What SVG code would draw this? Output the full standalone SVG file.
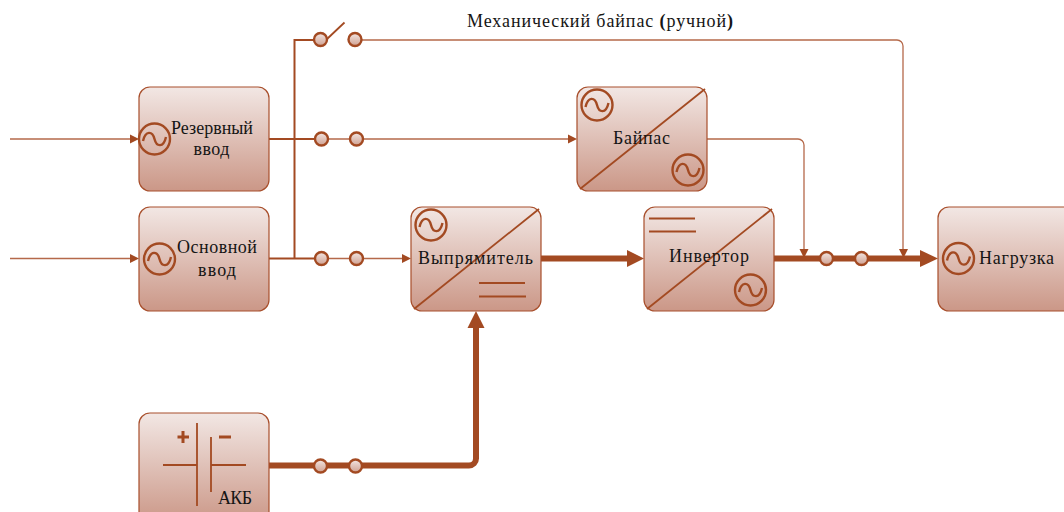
<svg xmlns="http://www.w3.org/2000/svg" width="1064" height="512" viewBox="0 0 1064 512">
<style>
.box{fill:url(#g);stroke:#a84f2c;stroke-width:1.2}
.t{font-family:"Liberation Serif",serif;font-size:18px;fill:#151515;text-anchor:middle}
.thin{fill:none;stroke:#b5694a;stroke-width:1.3}
.med{fill:none;stroke:#a34a22;stroke-width:2}
.thick{fill:none;stroke:#a34a22;stroke-width:6}
.sym{fill:none;stroke:#a34a22;stroke-width:1.8}
.pm{fill:none;stroke:#a34a22;stroke-width:3}
.ac{fill:none;stroke:#a34a22;stroke-width:2.400}
.dot{fill:url(#d);stroke:#a34a22;stroke-width:2.400}
.head{fill:#a34a22}
</style>
<defs>
<linearGradient id="g" x1="0" y1="0" x2="0" y2="1"><stop offset="0" stop-color="#f2e7e4"/><stop offset="1" stop-color="#cb9787"/></linearGradient>
<linearGradient id="d" x1="0" y1="0" x2="0" y2="1"><stop offset="0" stop-color="#f2e7e4"/><stop offset="1" stop-color="#d0a090"/></linearGradient>
<g id="ac"><circle r="15.500" class="ac"/><path d="M-11.500,2 C-9,-9 -2,-8 0,0 C2,8 9,9 11.500,-2" class="ac"/></g>
</defs>
<g id="connectors">
<path class="thin" d="M10,139H132"/><path class="head" d="M130,134.500L139,139L130,143.500Z"/>
<path class="thin" d="M10,258.500H132"/><path class="head" d="M130,254L139,258.500L130,263Z"/>
<path class="med" d="M269,139H321"/>
<path class="med" d="M269,258.500H321"/>
<path class="med" d="M294.500,258.500V40H320"/>
<path class="sym" d="M327,39L344.500,22.500"/>
<path class="thin" d="M321,139H570"/><path class="head" d="M568,134.500L577,139L568,143.500Z"/>
<path class="thin" d="M321,258.500H404"/><path class="head" d="M402,254L411,258.500L402,263Z"/>
<path class="thin" d="M355,40H897a6,6 0 0 1 6,6V250"/><path class="head" d="M899,249L903.500,258L908,249Z"/>
<path class="thin" d="M707,139H798a6,6 0 0 1 6,6V250"/><path class="head" d="M799.500,249L804,258L808.500,249Z"/>
<path class="thick" d="M541,258.500H628"/><path class="head" d="M627,250L644,258.500L627,267Z"/>
<path class="thick" d="M774,258.500H922"/><path class="head" d="M920,250L938,258.500L920,267Z"/>
<path class="thick" d="M269,465.500H469a7,7 0 0 0 7,-7V326"/><path class="head" d="M467.500,328L476,311L484.500,328Z"/>
<circle class="dot" cx="320.500" cy="39.500" r="6.500"/><circle class="dot" cx="355" cy="39.500" r="6.500"/>
<circle class="dot" cx="321.500" cy="139" r="6.500"/><circle class="dot" cx="356.500" cy="139" r="6.500"/>
<circle class="dot" cx="321.500" cy="258.500" r="6.500"/><circle class="dot" cx="356.500" cy="258.500" r="6.500"/>
<circle class="dot" cx="826.500" cy="258.500" r="6.500"/><circle class="dot" cx="861.500" cy="258.500" r="6.500"/>
<circle class="dot" cx="320.500" cy="466" r="6.500"/><circle class="dot" cx="355.500" cy="466" r="6.500"/>
</g>
<g id="reserve"><rect class="box" x="139" y="87" width="130" height="104" rx="11"/><use href="#ac" x="154.500" y="139"/><text class="t" x="212" y="134" textLength="82">Резервный</text><text class="t" x="211.500" y="155" textLength="36">ввод</text></g>
<g id="main"><rect class="box" x="139" y="207" width="130" height="104" rx="11"/><use href="#ac" x="159.500" y="259"/><text class="t" x="217" y="253" textLength="80">Основной</text><text class="t" x="217" y="276" textLength="38">ввод</text></g>
<g id="rectifier"><rect class="box" x="411" y="207" width="130" height="104" rx="11"/><path class="sym" d="M414,309L539,209"/><use href="#ac" x="431" y="225"/><path class="sym" d="M479,283H525M479,296.500H526"/><text class="t" x="475.500" y="264" textLength="115">Выпрямитель</text></g>
<g id="bypass"><rect class="box" x="577" y="87" width="130" height="104" rx="11"/><path class="sym" d="M580,189L705,89"/><use href="#ac" x="597" y="105"/><use href="#ac" x="688" y="170"/><text class="t" x="641.500" y="144" textLength="57">Байпас</text></g>
<g id="inverter"><rect class="box" x="644" y="207" width="130" height="104" rx="11"/><path class="sym" d="M647,309L772,209"/><path class="sym" d="M649,218.500H695M649,231.500H696"/><use href="#ac" x="750.500" y="290"/><text class="t" x="709" y="262" textLength="80">Инвертор</text></g>
<g id="load"><rect class="box" x="938" y="207" width="140" height="104" rx="11"/><use href="#ac" x="958.500" y="258.500"/><text class="t" x="1016.500" y="264" textLength="75">Нагрузка</text></g>
<g id="battery"><rect class="box" x="139" y="413" width="130" height="110" rx="11"/><path class="sym" d="M197,423V506M211,437V492M163,465H197M211,465H246"/><path class="pm" d="M177.500,437H189M183,431V443M219,437H231"/><text class="t" x="235" y="504" textLength="34">АКБ</text></g>
<text id="label" class="t" x="600" y="27" textLength="266">Механический байпас <tspan font-weight="bold">(</tspan>ручной<tspan font-weight="bold">)</tspan></text>
</svg>
